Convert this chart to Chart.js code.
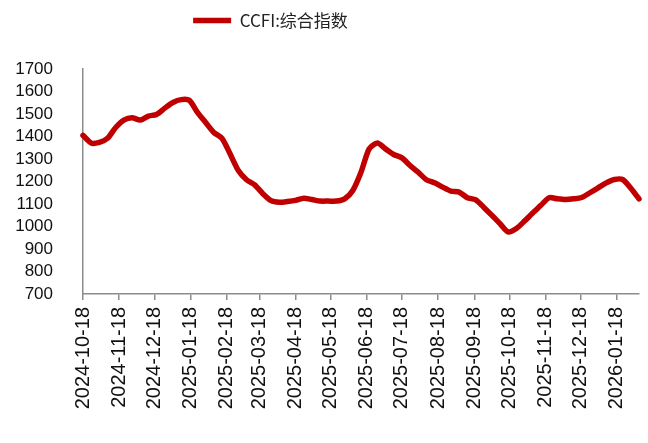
<!DOCTYPE html>
<html>
<head>
<meta charset="utf-8">
<title>CCFI</title>
<script src="https://cdn.jsdelivr.net/npm/chart.js@4.4.1/dist/chart.umd.min.js"></script>
<style>
  html, body { margin: 0; padding: 0; background: #fff; }
  #wrap { width: 648px; height: 443px; }
</style>
</head>
<body>
<div id="wrap"><canvas id="ccfiChart"></canvas></div>
<script>
//  Weekly release dates (Fridays)
const weeks = [
  '2024-10-18', '2024-10-25', '2024-11-01', '2024-11-08', '2024-11-15', '2024-11-22',
  '2024-11-29', '2024-12-06', '2024-12-13', '2024-12-20', '2024-12-27', '2025-01-03',
  '2025-01-10', '2025-01-17', '2025-01-24', '2025-01-31', '2025-02-07', '2025-02-14',
  '2025-02-21', '2025-02-28', '2025-03-07', '2025-03-14', '2025-03-21', '2025-03-28',
  '2025-04-04', '2025-04-11', '2025-04-18', '2025-04-25', '2025-05-02', '2025-05-09',
  '2025-05-16', '2025-05-23', '2025-05-30', '2025-06-06', '2025-06-13', '2025-06-20',
  '2025-06-27', '2025-07-04', '2025-07-11', '2025-07-18', '2025-07-25', '2025-08-01',
  '2025-08-08', '2025-08-15', '2025-08-22', '2025-08-29', '2025-09-05', '2025-09-12',
  '2025-09-19', '2025-09-26', '2025-10-03', '2025-10-10', '2025-10-17', '2025-10-24',
  '2025-10-31', '2025-11-07', '2025-11-14', '2025-11-21', '2025-11-28', '2025-12-05',
  '2025-12-12', '2025-12-19', '2025-12-26', '2026-01-02', '2026-01-09', '2026-01-16',
  '2026-01-23', '2026-01-30', '2026-02-06'
]

//  CCFI composite index
const ccfi = [
  1405, 1371, 1374, 1392, 1440, 1473, 1483, 1473, 1491, 1498, 1526, 1551,
  1564, 1561, 1507, 1462, 1418, 1392, 1322, 1249, 1208, 1185, 1146, 1115,
  1108, 1111, 1116, 1126, 1120, 1113, 1113, 1113, 1123, 1160, 1241, 1345,
  1371, 1345, 1320, 1305, 1271, 1241, 1208, 1194, 1175, 1157, 1153, 1128,
  1119, 1086, 1050, 1013, 976, 991, 1024, 1060, 1094, 1128, 1123, 1120,
  1123, 1129, 1150, 1172, 1194, 1209, 1209, 1170, 1123
]

//  Tick labels on the date axis
const tickDates = [
  '2024-10-18', '2024-11-18', '2024-12-18', '2025-01-18', '2025-02-18', '2025-03-18',
  '2025-04-18', '2025-05-18', '2025-06-18', '2025-07-18', '2025-08-18', '2025-09-18',
  '2025-10-18', '2025-11-18', '2025-12-18', '2026-01-18'
]

const seriesName = 'CCFI:综合指数'

//  Days since the first week, used as the x value
const dayOf = d => (Date.parse(d) - Date.parse(weeks[0])) / 86400000

//  Move the legend to where the original has it
const legendShift = {
  id: 'legendShift',
  afterLayout (chart) {
    const lg = chart.legend
    const dx = -51
    const dy = 2 - lg.top
    lg.left += dx
    lg.right += dx
    lg.top += dy
    lg.bottom += dy
  }
}

const axisGrey = '#8c8c8c'
const textColor = '#111'

const ctx = document.getElementById('ccfiChart').getContext('2d')
const ccfiChart = new Chart(ctx, {
  type: 'line',
  data: {
    datasets: [
      {
        label: seriesName,
        data: weeks.map((d, i) => ({ x: dayOf(d), y: ccfi[i] })),
        borderColor: '#c00000',
        backgroundColor: '#c00000',
        borderWidth: 5.5,
        borderCapStyle: 'round',
        borderJoinStyle: 'round',
        pointRadius: 0,
        tension: 0.25,
        clip: false
      }
    ]
  },
  options: {
    responsive: true,
    maintainAspectRatio: false,
    animation: false,
    layout: {
      padding: { top: 32, right: 5, bottom: 0, left: 0 }
    },
    plugins: {
      legend: {
        position: 'top',
        labels: {
          usePointStyle: true,
          pointStyle: 'line',
          pointStyleWidth: 38,
          color: '#222',
          font: { family: '"Noto Sans CJK SC", sans-serif', size: 17 }
        }
      },
      tooltip: { enabled: false }
    },
    scales: {
      x: {
        type: 'linear',
        min: 0,
        max: dayOf(weeks[weeks.length - 1]),
        afterBuildTicks: scale => {
          scale.ticks = tickDates.map(d => ({ value: dayOf(d) }))
        },
        afterFit: scale => {
          scale.height = 149
        },
        ticks: {
          autoSkip: false,
          minRotation: 90,
          maxRotation: 90,
          padding: 7,
          color: textColor,
          font: { family: '"Liberation Sans", Arial, sans-serif', size: 20 },
          callback: (value, index) => tickDates[index]
        },
        grid: {
          display: true,
          drawOnChartArea: false,
          drawTicks: true,
          tickLength: 6,
          color: axisGrey,
          lineWidth: 1.5
        },
        border: { color: axisGrey, width: 1.5 }
      },
      y: {
        min: 700,
        max: 1700,
        afterFit: scale => {
          scale.width = 83
        },
        ticks: {
          stepSize: 100,
          autoSkip: false,
          padding: 30,
          color: textColor,
          font: { family: '"Liberation Sans", Arial, sans-serif', size: 17 },
          callback: value => String(value)
        },
        grid: { display: false, drawTicks: false },
        border: { color: axisGrey, width: 1.5 }
      }
    }
  },
  plugins: [legendShift]
})
</script>
</body>
</html>
